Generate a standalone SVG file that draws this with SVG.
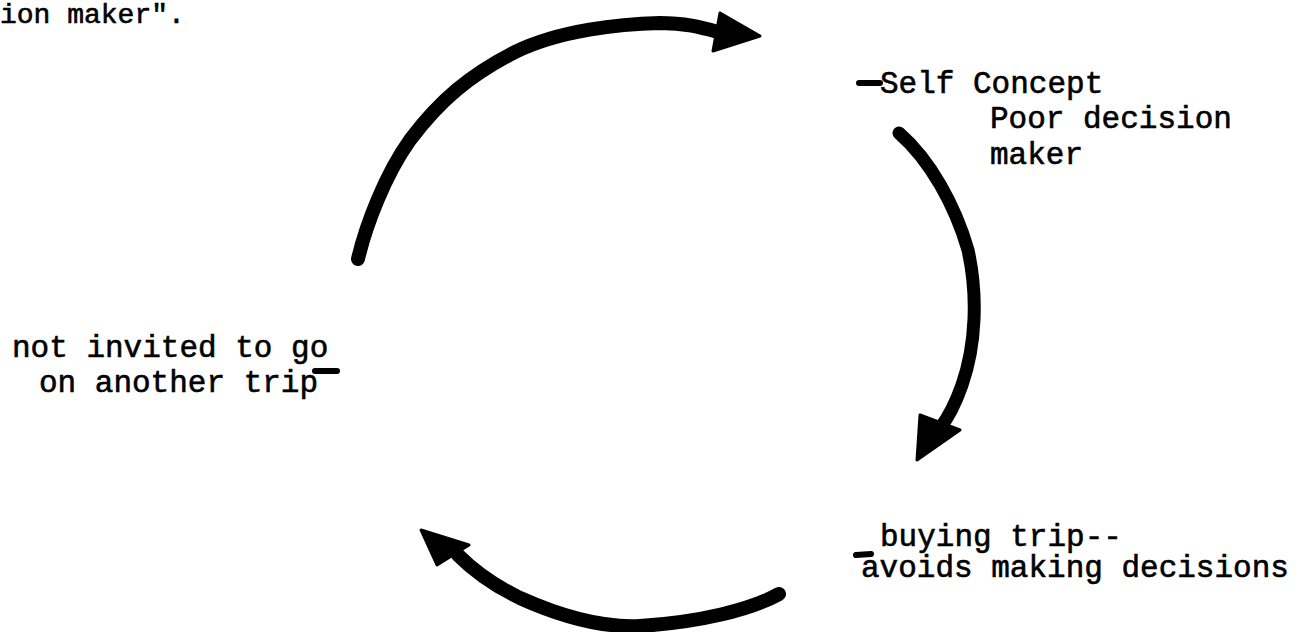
<svg xmlns="http://www.w3.org/2000/svg" width="1305" height="632" viewBox="0 0 1305 632">
<style>
.t{font-family:"Liberation Mono","Courier New",monospace;font-size:31px;fill:#000;stroke:#000;stroke-width:0.6}
.cap{font-size:28px}
.arc{fill:none;stroke:#000;stroke-linecap:round;stroke-linejoin:round}
.head{fill:#000;stroke:#000;stroke-width:3;stroke-linejoin:round}
.mark{stroke:#000;stroke-width:6;stroke-linecap:round}
</style>
<rect width="1305" height="632" fill="#fff"/>
<g id="caption"><text class="t cap" x="0" y="23">ion maker".</text></g>
<g id="node-self-concept">
<line class="mark" x1="859" y1="83" x2="880" y2="83"/>
<text class="t" x="880" y="93">Self Concept</text>
<text class="t" x="990" y="128">Poor decision</text>
<text class="t" x="990" y="164">maker</text>
</g>
<g id="node-buying-trip">
<line class="mark" x1="856" y1="555" x2="871" y2="554"/>
<text class="t" x="880" y="546">buying trip--</text>
<text class="t" x="861" y="577">avoids making decisions</text>
</g>
<g id="node-not-invited">
<text class="t" x="12" y="357">not invited to go</text>
<text class="t" x="39" y="392">on another trip</text>
<line class="mark" x1="315" y1="371" x2="337" y2="371"/>
</g>
<g id="connectors">
<path class="arc" stroke-width="14" d="M358,259 C366,225 385,175 410,140 C440,100 470,75 515,52 C560,30 620,24 660,23 C685,23 700,27 718,32"/>
<polygon class="head" points="720,13 760,36 713,51"/>
<path class="arc" stroke-width="13" d="M899,133 C930,160 955,205 968,250 C978,295 976,345 962,385 C955,405 948,418 940,428"/>
<polygon class="head" points="920,415 960,430 917,460"/>
<path class="arc" stroke-width="14" d="M779,594 C750,610 700,622 640,626 C600,628 560,616 520,598 C495,586 475,572 458,555"/>
<polygon class="head" points="421,530 469,545 437,565"/>
</g>
</svg>
